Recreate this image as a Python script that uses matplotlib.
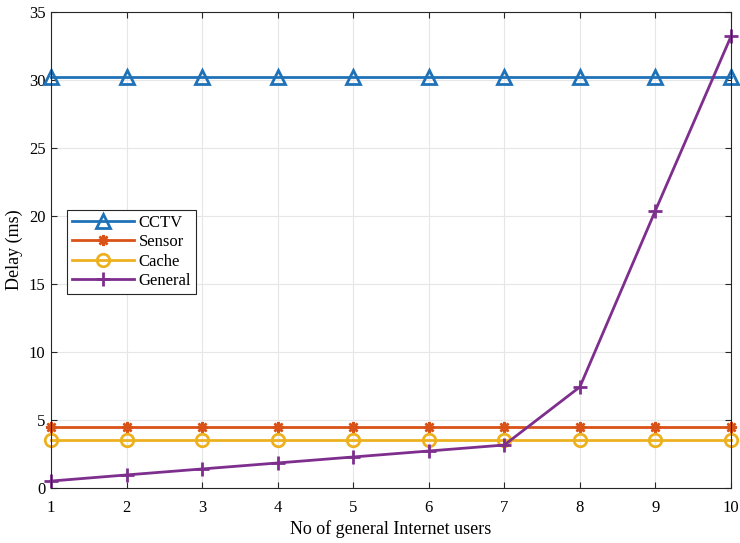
import matplotlib.pyplot as plt
import numpy as np

plt.rcParams['font.family'] = ['Liberation Serif', 'DejaVu Serif']

users = [1, 2, 3, 4, 5, 6, 7, 8, 9, 10]
cctv = [30.2] * 10
sensor = [4.5] * 10
cache = [3.5] * 10
general = [0.51, 0.96, 1.4, 1.84, 2.28, 2.72, 3.16, 7.43, 20.4, 33.2]

fig = plt.figure(figsize=(7.4, 5.43), dpi=100)
ax = fig.add_axes([0.0689, 0.1013, 0.9189, 0.8767])

ax.plot(users, cctv, color='#1F72B8', lw=2, marker='^', ms=10, mfc='none', mew=2, label='CCTV', clip_on=False)
ax.plot(users, sensor, color='#D95319', lw=2, marker=(8, 2, 0), ms=8, mew=1.8, label='Sensor', clip_on=False)
ax.plot(users, cache, color='#EDB120', lw=2, marker='o', ms=9, mfc='none', mew=2, label='Cache', clip_on=False)
ax.plot(users, general, color='#7E2F8E', lw=2, marker='+', ms=10, mew=2, label='General', clip_on=False)

ax.set_xlim(1, 10)
ax.set_ylim(0, 35)
ax.set_xticks(users)
ax.set_yticks(np.arange(0, 36, 5))
ax.grid(True, color='#e6e6e6', lw=0.8)
ax.set_axisbelow(True)
ax.tick_params(direction='in', top=True, right=True, labelsize=12, length=4, color='#262626')
ax.tick_params(axis='x', pad=8.5)
ax.tick_params(axis='y', pad=4)
for s in ax.spines.values():
    s.set_color('#262626')
    s.set_linewidth(0.8)

ax.set_xlabel('No of general Internet users', fontsize=13, labelpad=3)
ax.set_ylabel('Delay (ms)', fontsize=13)

leg = ax.legend(loc='upper left', bbox_to_anchor=(0.0235, 0.584), fontsize=12,
                fancybox=False, edgecolor='#262626', framealpha=1,
                handlelength=3.7, borderpad=0.3, labelspacing=0.2,
                handletextpad=0.3, borderaxespad=0)
leg.get_frame().set_linewidth(0.8)

fig.savefig('out.png', dpi=100)
